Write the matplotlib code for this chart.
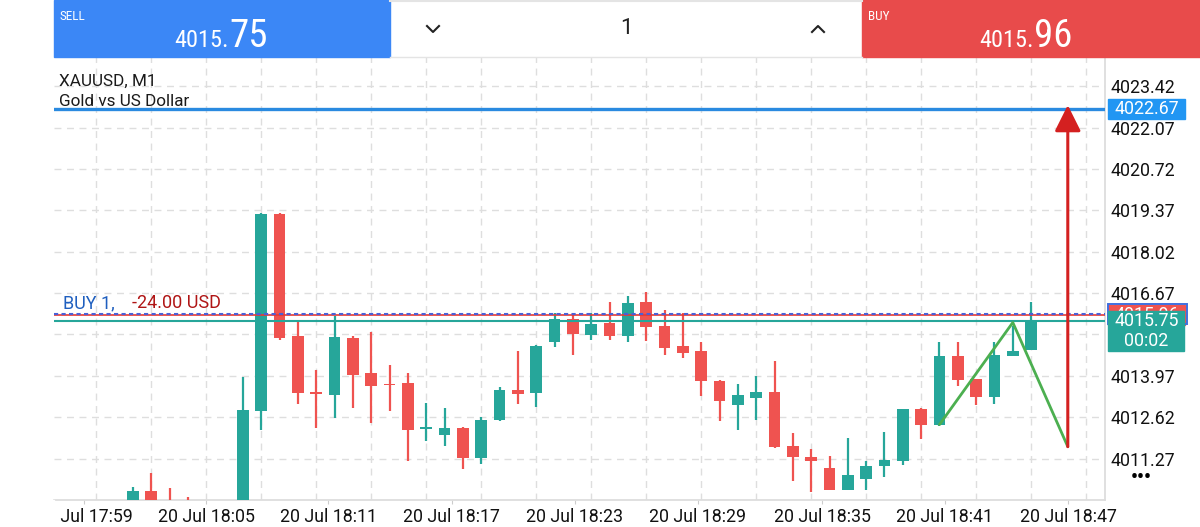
import matplotlib
matplotlib.use('Agg')
import matplotlib.pyplot as plt
import matplotlib.transforms as mtransforms
from matplotlib.patches import Rectangle
from matplotlib.lines import Line2D
from matplotlib.ticker import MultipleLocator
import numpy as np

plt.rcParams['font.family'] = ['Roboto', 'DejaVu Sans']
NARROW = ['Roboto Condensed', 'Liberation Sans Narrow', 'DejaVu Sans Condensed', 'Roboto']

# XAUUSD M1 candles, one per minute (index 0 = first candle poking into view)
opens = [4009.70, 4010.20, 4009.85, 4009.80, 4009.60, 4009.40, 4009.70, 4012.81, 4019.24, 4015.28,
         4013.45, 4013.34, 4015.20, 4014.05, 4013.71, 4013.74, 4012.24, 4012.05, 4012.26, 4011.28,
         4012.53, 4013.51, 4013.41, 4015.06, 4015.84, 4015.31, 4015.69, 4015.28, 4016.38, 4015.60,
         4014.95, 4014.79, 4013.81, 4013.02, 4013.25, 4013.45, 4011.69, 4011.31, 4010.97, 4010.23,
         4010.61, 4011.04, 4011.18, 4012.89, 4012.38, 4014.62, 4013.87, 4013.27, 4014.62, 4014.82]
highs = [4010.34, 4010.79, 4010.32, 4010.03, 4009.80, 4009.85, 4013.94, 4019.29, 4019.27, 4015.79,
         4014.16, 4015.93, 4015.28, 4015.41, 4014.33, 4014.05, 4013.07, 4012.91, 4012.31, 4012.62,
         4013.59, 4014.77, 4014.97, 4016.02, 4016.02, 4016.02, 4016.39, 4016.56, 4016.72, 4016.12,
         4016.02, 4015.08, 4013.83, 4013.72, 4013.97, 4014.44, 4012.11, 4011.59, 4011.37, 4011.94,
         4011.20, 4012.15, 4012.89, 4012.92, 4015.06, 4015.06, 4013.87, 4015.06, 4015.60, 4016.39]
lows = [4009.55, 4009.60, 4009.60, 4009.50, 4009.30, 4009.30, 4009.60, 4012.21, 4015.14, 4013.05,
        4012.27, 4012.58, 4012.91, 4012.43, 4012.83, 4011.20, 4011.86, 4011.67, 4010.93, 4011.10,
        4012.50, 4013.05, 4012.96, 4014.90, 4014.66, 4015.15, 4015.15, 4015.06, 4015.11, 4014.66,
        4014.54, 4013.32, 4012.51, 4012.21, 4012.53, 4011.62, 4010.53, 4010.17, 4010.25, 4010.23,
        4010.26, 4010.68, 4011.07, 4011.91, 4012.32, 4013.65, 4013.03, 4013.05, 4014.62, 4014.82]
closes = [4010.20, 4009.80, 4009.70, 4009.60, 4009.40, 4009.70, 4012.86, 4019.26, 4015.22, 4013.42,
          4013.37, 4015.24, 4014.01, 4013.63, 4013.67, 4012.21, 4012.27, 4012.26, 4011.28, 4012.54,
          4013.52, 4013.38, 4014.95, 4015.84, 4015.33, 4015.66, 4015.28, 4016.36, 4015.57, 4014.88,
          4014.71, 4013.79, 4013.16, 4013.35, 4013.45, 4011.66, 4011.31, 4011.18, 4010.25, 4010.72,
          4011.02, 4011.24, 4012.89, 4012.38, 4014.62, 4013.83, 4013.27, 4014.66, 4014.79, 4015.75]

time_labels = ['20 Jul 17:59', '20 Jul 18:05', '20 Jul 18:11', '20 Jul 18:17', '20 Jul 18:23',
               '20 Jul 18:29', '20 Jul 18:35', '20 Jul 18:41', '20 Jul 18:47']
time_label_pos = [-2.67, 3.98, 10.64, 17.40, 24.11, 30.82, 37.59, 44.30, 51.01]
price_ticks = [4011.27, 4012.62, 4013.97, 4015.32, 4016.67, 4018.02, 4019.37, 4020.72, 4022.07, 4023.42]

symbol = 'XAUUSD, M1'
description = 'Gold vs US Dollar'
bid = 4015.75
ask = 4015.96
entry = 4015.99
target = 4022.67
lot = '1'
position_label = 'BUY 1,'
profit_label = '-24.00 USD'
timer = '00:02'

# hand-drawn zigzag and arrow
zigzag_x = [44, 48, 51]
zigzag_y = [4012.38, 4015.71, 4011.66]
arrow_x = 51
arrow_from = 4011.66
arrow_to = 4022.80

xlim = (-4.31, 53.03)
ylim = (4009.92, 4024.37)

GREEN = '#26a69a'
RED = '#ef5350'
SELL_BLUE = '#3b87f6'
BUY_RED = '#e84b4b'

W, H = 1200, 527
def fx(x):
    return x / W
def fy(y):
    return 1 - y / H

fig = plt.figure(figsize=(12, 5.27), dpi=100)
ax = fig.add_axes([fx(54), fy(500), fx(1105) - fx(54), fy(57) - fy(500)])
ax.set_xlim(*xlim)
ax.set_ylim(*ylim)
ppu = (500 - 57) / (ylim[1] - ylim[0])  # pixels per price unit

# candles
o, h, l, c = map(np.array, (opens, highs, lows, closes))
idx = np.arange(len(o))
cols = np.where(c >= o, GREEN, RED)
ax.vlines(idx, l, h, colors=cols, lw=1.6, zorder=3)
ax.bar(idx, np.maximum(np.abs(c - o), 0.05), bottom=np.minimum(o, c), width=0.64,
       color=cols, lw=0, zorder=3)

# price lines
ax.axhline(target, color='#2a8ae0', lw=2.4, zorder=4)
ax.axhline(ask, color='#e53935', lw=1.2, zorder=4)
ax.axhline(entry, color='#4a5fd6', lw=1.5, ls=(0, (2, 1.6)), zorder=4)
ax.axhline(bid, color=GREEN, lw=1.5, zorder=4)

ax.plot(zigzag_x, zigzag_y, color='#4caf50', lw=2, zorder=5, solid_capstyle='round')
ax.annotate('', xy=(arrow_x, arrow_to), xytext=(arrow_x, arrow_from),
            arrowprops=dict(arrowstyle='-|>', color='#d42020', lw=2.2, mutation_scale=40,
                            shrinkA=0, shrinkB=0), zorder=5)

# axes styling
for s in ['top', 'left']:
    ax.spines[s].set_visible(False)
for s in ['bottom', 'right']:
    ax.spines[s].set_color('#dddddd')
    ax.spines[s].set_linewidth(1.3)
ax.yaxis.tick_right()
ax.set_yticks(price_ticks)
ax.set_yticklabels([f'{v:.2f}' for v in price_ticks])
ax.tick_params(axis='y', length=0, pad=4.3, labelsize=12.8, labelcolor='#111111')
ax.set_xticks(time_label_pos)
ax.set_xticklabels(time_labels)
ax.tick_params(axis='x', length=3, color='#cccccc', pad=2.5, labelsize=12.8, labelcolor='#111111')
ax.xaxis.set_minor_locator(MultipleLocator(3, offset=1))
ax.tick_params(which='minor', length=0)
ax.grid(True, which='minor', axis='x', color='#dedede', ls=(0, (5, 4)), lw=1)
ax.grid(True, which='major', axis='y', color='#dedede', ls=(0, (5, 4)), lw=1)
ax.set_axisbelow(True)

ax.text(0.005, (500 - 81) / 443, symbol, transform=ax.transAxes, fontsize=12.3, color='#1a1a1a', va='center')
ax.text(0.005, (500 - 102) / 443, description, transform=ax.transAxes, fontsize=12.3, color='#1a1a1a', va='center')

trans = mtransforms.blended_transform_factory(ax.transAxes, ax.transData)
ax.text((63 - 54) / 1051, entry + 11 / ppu, position_label, transform=trans, fontsize=13,
        color='#1f5fbf', va='center')
ax.text((132 - 54) / 1051, entry + 11 / ppu, profit_label, transform=trans, fontsize=13,
        color='#b01515', va='center')

# price boxes on the right scale
bx0 = (1108 - 54) / 1051
bw = 77 / 1051
bxc = bx0 + bw / 2
ax.add_patch(Rectangle((bx0, target - 10 / ppu), bw, 20 / ppu, transform=trans, color='#2196f3',
                       clip_on=False, zorder=6))
ax.text(bxc, target, f'{target:.2f}', transform=trans, color='white', fontsize=12.8,
        ha='center', va='center', zorder=6.5, clip_on=False)
ax.add_patch(Rectangle((bx0, ask - 10 / ppu), bw, 20 / ppu, transform=trans, color=RED,
                       clip_on=False, zorder=6))
# ask label is mostly covered by the bid box, as in the terminal
ask_txt = ax.text(bxc, ask, f'{ask:.2f}', transform=trans, color='white', fontsize=12.8,
                  ha='center', va='center', zorder=6.5)
ax.add_patch(Rectangle((bx0, entry - 10 / ppu), bw + 2 / 1051, 20 / ppu, transform=trans,
                       facecolor='none', edgecolor='#3f6fe0', lw=1.4, clip_on=False, zorder=7))
green_box = Rectangle((bx0, bid - 30 / ppu), bw - 1 / 1051, 40 / ppu, transform=trans, color=GREEN,
                      clip_on=False, zorder=8)
ax.add_patch(green_box)
clip_rect = Rectangle((bx0, bid + 10 / ppu), bw, 10 / ppu, transform=trans)
ask_txt.set_clip_path(clip_rect)
ax.text(bxc, bid, f'{bid:.2f}', transform=trans, color='white', fontsize=12.8,
        ha='center', va='center', zorder=8.5, clip_on=False)
ax.text(bxc, bid - 20 / ppu, timer, transform=trans, color='white', fontsize=12.8,
        ha='center', va='center', zorder=8.5, clip_on=False)

fig.text(fx(1141), fy(478), '•••', fontsize=14, fontweight='bold', ha='center', va='center', color='black')

# hide the clipped part of the first time label
fig.add_artist(Rectangle((0, 0), fx(54), fy(500), transform=fig.transFigure, color='white', zorder=10))

# top trade bar
fig.add_artist(Rectangle((fx(54), fy(57)), fx(390) - fx(54), fy(0) - fy(57),
                         transform=fig.transFigure, color=SELL_BLUE, zorder=10))
fig.add_artist(Rectangle((fx(862), fy(57)), fx(1200) - fx(862), fy(0) - fy(57),
                         transform=fig.transFigure, color=BUY_RED, zorder=10))
fig.add_artist(Line2D([fx(390), fx(862)], [fy(57), fy(57)], color='#e4e4e4', lw=1, zorder=10))
fig.add_artist(Line2D([fx(390), fx(862)], [fy(1), fy(1)], color='#e4e4e4', lw=1.5, zorder=10))

sell_s = f'{bid:.2f}'
buy_s = f'{ask:.2f}'
fig.text(fx(59), fy(16), 'SELL', color='white', fontsize=9.5, family=NARROW, va='center', zorder=11)
fig.text(fx(229), fy(47), sell_s[:-2], color='white', fontsize=17.5, family=NARROW,
         ha='right', va='baseline', zorder=11)
fig.text(fx(229), fy(47), sell_s[-2:], color='white', fontsize=28, family=NARROW,
         ha='left', va='baseline', zorder=11)
fig.text(fx(868), fy(16), 'BUY', color='white', fontsize=9.5, family=NARROW, va='center', zorder=11)
fig.text(fx(1034), fy(47), buy_s[:-2], color='white', fontsize=17.5, family=NARROW,
         ha='right', va='baseline', zorder=11)
fig.text(fx(1034), fy(47), buy_s[-2:], color='white', fontsize=28, family=NARROW,
         ha='left', va='baseline', zorder=11)

fig.text(fx(626), fy(29), lot, color='#222222', fontsize=16, ha='center', va='center', zorder=11)
fig.add_artist(Line2D([fx(427), fx(433), fx(439)], [fy(26), fy(32), fy(26)], color='#222222',
                      lw=1.5, zorder=11))
fig.add_artist(Line2D([fx(812), fx(818), fx(824)], [fy(32), fy(26), fy(32)], color='#222222',
                      lw=1.5, zorder=11))

fig.savefig('out.png', dpi=100, facecolor='white')
